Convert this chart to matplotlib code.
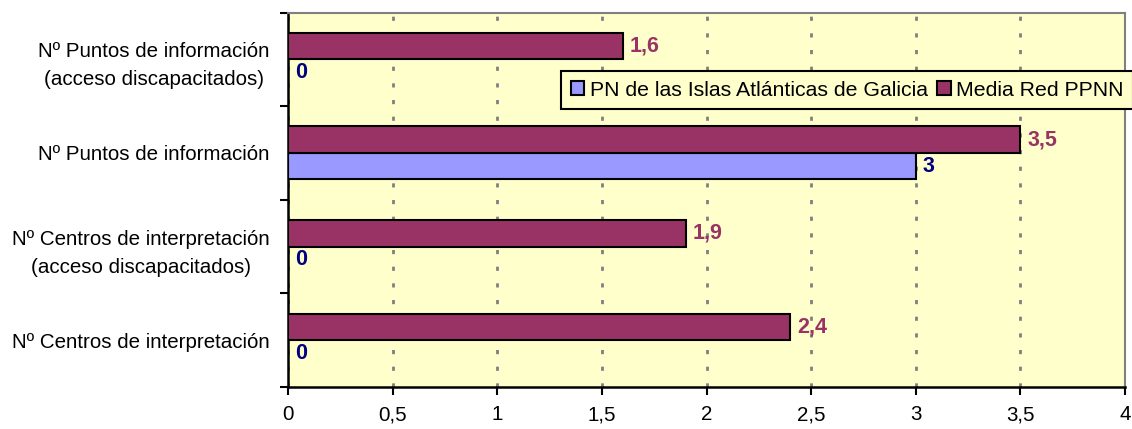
import matplotlib.pyplot as plt
import numpy as np

categories = [
    "Nº Centros de interpretación",
    "Nº Centros de interpretación\n(acceso discapacitados)",
    "Nº Puntos de información",
    "Nº Puntos de información\n(acceso discapacitados)",
]
pn_values = [0, 0, 3, 0]
media_values = [2.4, 1.9, 3.5, 1.6]
x_ticks = [0, 0.5, 1, 1.5, 2, 2.5, 3, 3.5, 4]
x_tick_labels = ["0", "0,5", "1", "1,5", "2", "2,5", "3", "3,5", "4"]
series_names = ["PN de las Islas Atlánticas de Galicia", "Media Red PPNN"]

plt.rcParams['font.family'] = ['Liberation Sans', 'DejaVu Sans']

fig = plt.figure(figsize=(11.32, 4.29), dpi=100)
ax = fig.add_axes([288 / 1132, 1 - 387 / 429, (1125 - 288) / 1132, (387 - 12.5) / 429])
ax.set_facecolor("#FFFFCC")

y = np.arange(len(categories))
h = 0.283
ax.barh(y - h / 2, pn_values, height=h, color="#9999FF", edgecolor="black",
        linewidth=1.5, label=series_names[0], zorder=3)
ax.barh(y + h / 2, media_values, height=h, color="#993366", edgecolor="black",
        linewidth=1.5, label=series_names[1], zorder=3)

fmt = lambda v: ("%g" % v).replace(".", ",")
for i in range(len(categories)):
    ax.annotate(fmt(media_values[i]), (media_values[i], y[i] + h / 2), xytext=(5, 0),
                textcoords="offset points", va="center", ha="left", fontsize=15.5,
                fontweight="bold", color="#993366", zorder=4)
    ax.annotate(fmt(pn_values[i]), (pn_values[i], y[i] - h / 2), xytext=(5, 0),
                textcoords="offset points", va="center", ha="left", fontsize=15.5,
                fontweight="bold", color="#000080", zorder=4)

ax.set_xlim(0, 4)
ax.set_ylim(-0.5, len(categories) - 0.5)
ax.set_xticks(x_ticks)
ax.set_xticklabels(x_tick_labels, fontsize=14.8)
ax.set_yticks(y)
ax.set_yticklabels(categories, fontsize=14.8, multialignment="center", linespacing=1.6)
ax.set_yticks(np.arange(-0.5, len(categories)), minor=True)
ax.tick_params(axis="y", which="major", length=0, pad=13)
ax.tick_params(axis="y", which="minor", length=6, width=1.5, direction="out")
ax.tick_params(axis="x", length=6, width=1.5, direction="out", pad=7)

ax.xaxis.grid(True, color="#808080", linestyle=(0, (1.5, 4.5)), linewidth=2, zorder=1)

for s in ["left", "bottom"]:
    ax.spines[s].set_linewidth(1.8)
    ax.spines[s].set_color("black")
for s in ["top", "right"]:
    ax.spines[s].set_linewidth(1.5)
    ax.spines[s].set_color("#808080")

leg = ax.legend(loc="upper left", bbox_to_anchor=(561 / 1132, 1 - 71 / 429),
                bbox_transform=fig.transFigure, ncol=2, fontsize=15.3, frameon=True,
                fancybox=False, handlelength=0.65, handleheight=0.65, handletextpad=0.25,
                columnspacing=0.45, borderpad=0.45, borderaxespad=0)
leg.get_frame().set_edgecolor("black")
leg.get_frame().set_linewidth(1.5)
leg.get_frame().set_facecolor("#FFFFCC")
leg.get_frame().set_alpha(None)

fig.savefig("out.png", dpi=100)
